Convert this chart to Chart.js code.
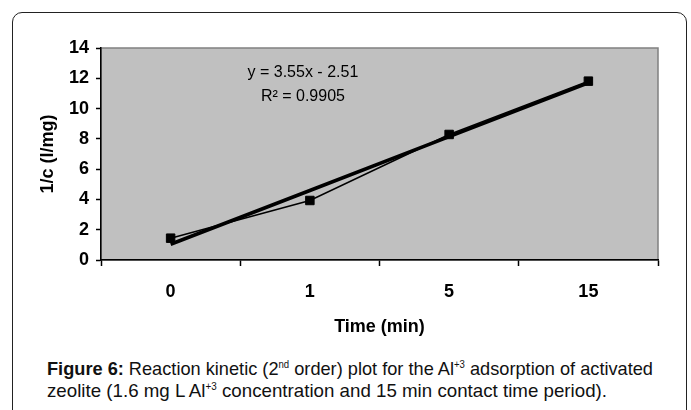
<!DOCTYPE html>
<html>
<head>
<meta charset="utf-8">
<script src="https://cdn.jsdelivr.net/npm/chart.js@4.4.0/dist/chart.umd.min.js"></script>
<style>
  body { margin: 0; background: #fff; width: 691px; height: 410px; overflow: hidden; position: relative; font-family: "Liberation Sans", Arial, sans-serif; }
  #frame { position: absolute; left: 12px; top: 12px; width: 673px; height: 440px; border: 1.5px solid #222; border-radius: 10px; }
  #myChart { position: absolute; left: 0; top: 0; }
  .cap { position: absolute; left: 47px; font-size: 19px; color: #111; white-space: nowrap; transform-origin: 0 0; line-height: 22px; }
  .cap sup { font-size: 10px; vertical-align: 7px; line-height: 0; }
</style>
</head>
<body>
<div id="frame"></div>
<canvas id="myChart" width="691" height="345"></canvas>
<div class="cap" id="cap1" style="top:358px"><b>Figure 6:</b> Reaction kinetic (2<sup>nd</sup> order) plot for the Al<sup>+3</sup> adsorption of activated</div>
<div class="cap" id="cap2" style="top:380px">zeolite (1.6 mg L Al<sup>+3</sup> concentration and 15 min contact time period).</div>
<script>
// x-axis categories (time in min)
const times = ["0", "1", "5", "15"];
// measured 1/c values
const vals = [1.44, 3.93, 8.29, 11.81];
// linear trendline values
const trendVals = [1.04, 4.59, 8.14, 11.69];
// trendline labels
const eqText = "y = 3.55x - 2.51";
const r2Text = "R\u00B2 = 0.9905";

// squeeze caption lines to the width they take in the figure
const capWidths = { cap1: 606, cap2: 560 };
for (const id in capWidths) {
  const el = document.getElementById(id);
  const w = el.getBoundingClientRect().width;
  el.style.transform = "scaleX(" + (capWidths[id] / w) + ")";
}

// gray plot background with border
const plotBg = {
  id: "plotBg",
  beforeDraw(chart) {
    const { ctx, chartArea: a } = chart;
    ctx.save();
    ctx.fillStyle = "#c0c0c0";
    ctx.fillRect(a.left, a.top, a.right - a.left, a.bottom - a.top);
    ctx.strokeStyle = "#808080";
    ctx.lineWidth = 1.5;
    ctx.strokeRect(a.left, a.top, a.right - a.left, a.bottom - a.top);
    ctx.restore();
  },
};

// equation text in the plot
const eqLabel = {
  id: "eqLabel",
  afterDatasetsDraw(chart) {
    const { ctx, scales } = chart;
    const x = scales.x.getPixelForValue(0.95);
    ctx.save();
    ctx.fillStyle = "#000";
    ctx.font = "16px 'Liberation Sans', Arial, sans-serif";
    ctx.textAlign = "center";
    ctx.textBaseline = "middle";
    ctx.fillText(eqText, x, scales.y.getPixelForValue(12.4));
    ctx.fillText(r2Text, x, scales.y.getPixelForValue(10.8));
    ctx.restore();
  },
};

const boldFont = { family: "'Liberation Sans', Arial, sans-serif", size: 18, weight: "bold" };

let ctx = document.getElementById("myChart").getContext("2d");
let myChart = new Chart(ctx, {
  type: "line",
  data: {
    labels: times,
    datasets: [
      {
        label: "1/c",
        data: vals,
        borderColor: "#000",
        backgroundColor: "#000",
        borderWidth: 1.5,
        pointStyle: "rect",
        pointRadius: 6,
        pointBorderWidth: 1,
        tension: 0,
        order: 0,
      },
      {
        label: "Linear",
        data: trendVals,
        borderColor: "#000",
        borderWidth: 3.5,
        pointRadius: 0,
        tension: 0,
        order: 1,
      },
    ],
  },
  options: {
    responsive: false,
    animation: false,
    layout: { padding: { top: 48, right: 33, left: 0, bottom: 0 } },
    plugins: {
      legend: { display: false },
      tooltip: { enabled: false },
    },
    scales: {
      x: {
        offset: true,
        grid: { offset: true, drawOnChartArea: false, tickLength: 6, tickColor: "#000", tickWidth: 1.5 },
        border: { color: "#000", width: 1.5 },
        ticks: { color: "#000", font: boldFont, padding: 15 },
        title: { display: true, text: "Time (min)", color: "#000", font: boldFont, padding: { top: 0, bottom: 7 } },
        afterFit(scale) { scale.height = 85; },
      },
      y: {
        min: 0,
        max: 14,
        ticks: { stepSize: 2, color: "#000", font: boldFont, padding: 7 },
        grid: { drawOnChartArea: false, tickLength: 5, tickColor: "#000", tickWidth: 1.5 },
        border: { color: "#000", width: 1.5 },
        title: { display: true, text: "1/c (l/mg)", color: "#000", font: boldFont, padding: { top: 37, bottom: 0 } },
        afterFit(scale) { scale.width = 101; },
      },
    },
  },
  plugins: [plotBg, eqLabel],
});
</script>
</body>
</html>
